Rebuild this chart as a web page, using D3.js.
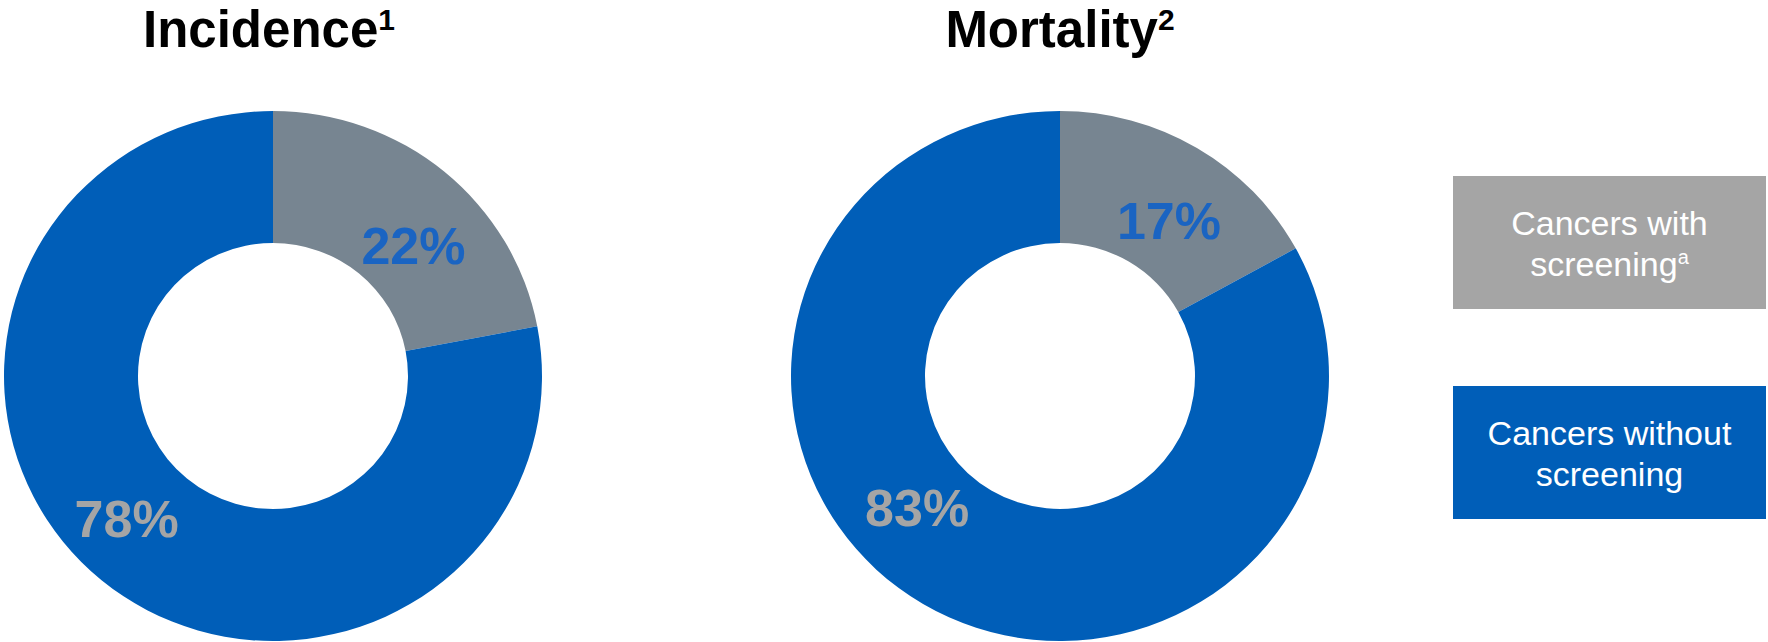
<!DOCTYPE html>
<html><head><meta charset="utf-8">
<script src="https://cdn.jsdelivr.net/npm/d3@7/dist/d3.min.js"></script>
<style>
html,body{margin:0;padding:0;background:#fff;}
svg{display:block;font-family:"Liberation Sans",Arial,sans-serif;}
</style></head>
<body>
<svg id="chart" width="1768" height="642"></svg>
<script>
// ---- data ----
const charts = ["Incidence", "Mortality"];
const chartSup = ["1", "2"];
const categories = ["Cancers with screening", "Cancers without screening"];
const incidenceValues = [22, 78];
const mortalityValues = [17, 83];
const legendLines = [["Cancers with", "screening"], ["Cancers without", "screening"]];
const legendSup = ["a", ""];

// ---- layout / style ----
const W = 1768, H = 642;
const colors = ["#778591", "#005EB8"];
const labelColors = ["#1A64C2", "#A5A5A5"];
const legendColors = ["#A5A5A5", "#005EB8"];
const centersX = [273, 1060];
const titleShift = [-4, 0];
const centerY = 376;
const rOuter = 269, rInner = 135, yScale = 0.985;
// label placement (angle in degrees clockwise from top, radius) per chart/slice
const labelPlace = [
  [{a: 47, r: 192}, {a: 225, r: 207}],
  [{a: 35, r: 190}, {a: 226.5, r: 197}]
];

const svg = d3.select("#chart");
const pie = d3.pie().sort(null).value(d => d);
const arc = d3.arc().innerRadius(rInner).outerRadius(rOuter);
const seriesList = [incidenceValues, mortalityValues];

seriesList.forEach((vals, ci) => {
  const g = svg.append("g")
    .attr("transform", `translate(${centersX[ci]},${centerY}) scale(1,${yScale})`);
  const arcs = pie(vals);
  g.selectAll("path").data(arcs).join("path")
    .attr("d", arc)
    .attr("fill", (d, i) => colors[i]);

  // labels
  const lg = svg.append("g").attr("transform", `translate(${centersX[ci]},${centerY - 2})`);
  lg.selectAll("text").data(arcs).join("text")
    .attr("x", (d, i) => labelPlace[ci][i].r * Math.sin(labelPlace[ci][i].a * Math.PI / 180))
    .attr("y", (d, i) => -labelPlace[ci][i].r * Math.cos(labelPlace[ci][i].a * Math.PI / 180) * yScale)
    .attr("dy", "0.36em")
    .attr("text-anchor", "middle")
    .attr("font-size", 52)
    .attr("font-weight", "bold")
    .attr("fill", (d, i) => labelColors[i])
    .text(d => d.data + "%");

  // title
  const t = svg.append("text")
    .attr("x", centersX[ci] + titleShift[ci])
    .attr("y", 47)
    .attr("text-anchor", "middle")
    .attr("font-size", 51)
    .attr("font-weight", "bold")
    .attr("fill", "#000");
  t.append("tspan").text(charts[ci]);
  t.append("tspan").attr("font-size", 30).attr("dy", -17).text(chartSup[ci]);
});

// legend
const legX = 1453, legW = 313, legH = 133;
const legY = [176, 386];
categories.forEach((c, i) => {
  svg.append("rect")
    .attr("x", legX).attr("y", legY[i])
    .attr("width", legW).attr("height", legH)
    .attr("fill", legendColors[i]);
  const tx = svg.append("text")
    .attr("x", legX + legW / 2)
    .attr("text-anchor", "middle")
    .attr("font-size", 34)
    .attr("fill", "#ffffff");
  legendLines[i].forEach((line, li) => {
    const ts = tx.append("tspan")
      .attr("x", legX + legW / 2)
      .attr("y", legY[i] + legH / 2 - 8 + li * 41);
    ts.append("tspan").text(line);
    if (li === legendLines[i].length - 1 && legendSup[i]) {
      ts.append("tspan").attr("font-size", 20).attr("dy", -12).text(legendSup[i]);
    }
  });
});
</script>
</body></html>
